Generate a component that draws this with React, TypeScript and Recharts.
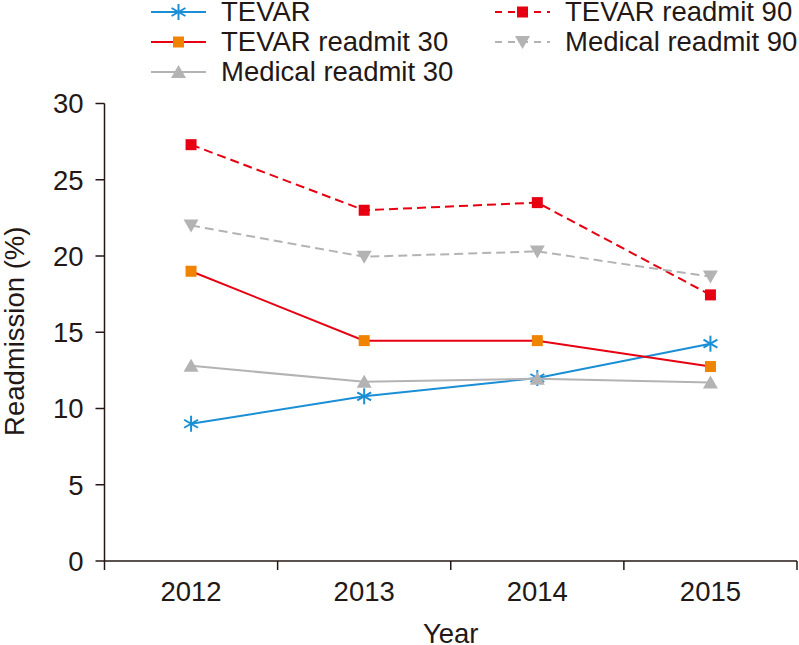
import React from 'react';
import { LineChart, Line, XAxis, YAxis, Label } from 'recharts';

const years = ['2012', '2013', '2014', '2015'];
const tevar = [9.0, 10.8, 12.0, 14.25];
const tevar30 = [19.0, 14.45, 14.45, 12.75];
const medical30 = [12.8, 11.75, 11.95, 11.7];
const tevar90 = [27.3, 23.0, 23.5, 17.45];
const medical90 = [22.0, 19.95, 20.3, 18.65];
const yTicks = [0, 5, 10, 15, 20, 25, 30];
const xTicks = [-0.5, 0, 0.5, 1, 1.5, 2, 2.5, 3, 3.5];

const INK = '#231815';
const FONT = '"Liberation Sans", Arial, Helvetica, sans-serif';
const FS = 27.5;

const data = years.map((year, i) => ({
  x: i,
  year,
  tevar: tevar[i],
  tevar30: tevar30[i],
  medical30: medical30[i],
  tevar90: tevar90[i],
  medical90: medical90[i],
}));

type Marker = 'asterisk' | 'square' | 'triangle' | 'triangleDown';

interface SeriesDef {
  key: string;
  name: string;
  line: string;
  fill: string;
  dash?: string;
  marker: Marker;
}

const series: SeriesDef[] = [
  { key: 'tevar', name: 'TEVAR', line: '#1a8fd6', fill: '#1a8fd6', marker: 'asterisk' },
  { key: 'tevar30', name: 'TEVAR readmit 30', line: '#e60012', fill: '#f08300', marker: 'square' },
  { key: 'medical30', name: 'Medical readmit 30', line: '#b3b3b3', fill: '#b3b3b3', marker: 'triangle' },
  { key: 'tevar90', name: 'TEVAR readmit 90', line: '#e60012', fill: '#e60012', dash: '9 5', marker: 'square' },
  { key: 'medical90', name: 'Medical readmit 90', line: '#b3b3b3', fill: '#b3b3b3', dash: '9 5', marker: 'triangleDown' },
];

function MarkerShape({ cx, cy, marker, color }: { cx: number; cy: number; marker: Marker; color: string }) {
  if (marker === 'asterisk') {
    const r = 8;
    const dx = r * Math.cos(Math.PI / 6);
    const dy = r * Math.sin(Math.PI / 6);
    return (
      <g stroke={color} strokeWidth={2}>
        <line x1={cx} y1={cy - r} x2={cx} y2={cy + r} />
        <line x1={cx - dx} y1={cy - dy} x2={cx + dx} y2={cy + dy} />
        <line x1={cx - dx} y1={cy + dy} x2={cx + dx} y2={cy - dy} />
      </g>
    );
  }
  if (marker === 'square') {
    const s = 5.5;
    return <rect x={cx - s} y={cy - s} width={2 * s} height={2 * s} fill={color} />;
  }
  if (marker === 'triangle') {
    return <polygon points={`${cx},${cy - 7} ${cx - 7.5},${cy + 6} ${cx + 7.5},${cy + 6}`} fill={color} />;
  }
  return <polygon points={`${cx},${cy + 7} ${cx - 7.5},${cy - 6} ${cx + 7.5},${cy - 6}`} fill={color} />;
}

const XTick = (props: any) => {
  const { x, y, payload } = props;
  const v = payload.value as number;
  if (!Number.isInteger(v)) {
    return <line x1={x} x2={x} y1={y - 9} y2={y} stroke={INK} strokeWidth={1.5} />;
  }
  return (
    <text x={x} y={y + 31} textAnchor="middle" fill={INK} fontSize={FS} fontFamily={FONT}>
      {years[v]}
    </text>
  );
};

const legendCols = [
  { left: 151, items: [series[0], series[1], series[2]] },
  { left: 495, items: [series[3], series[4]] },
];

function LegendBlock() {
  return (
    <>
      {legendCols.map((col, ci) =>
        col.items.map((s, ri) => (
          <div
            key={`${ci}-${ri}`}
            style={{
              position: 'absolute',
              left: col.left,
              top: 12 + ri * 30 - 15,
              height: 30,
              display: 'flex',
              alignItems: 'center',
              whiteSpace: 'nowrap',
            }}
          >
            <svg width={55} height={30} style={{ display: 'block' }}>
              <line x1={0} x2={55} y1={15} y2={15} stroke={s.line} strokeWidth={2} strokeDasharray={s.dash ? '7 6' : undefined} />
              <MarkerShape cx={27.5} cy={15} marker={s.marker} color={s.fill} />
            </svg>
            <span style={{ marginLeft: 15, fontFamily: FONT, fontSize: FS, color: INK, lineHeight: '30px' }}>{s.name}</span>
          </div>
        ))
      )}
    </>
  );
}

export default function App() {
  return (
    <div style={{ position: 'absolute', left: 0, top: 0, width: 799, height: 645, background: '#fff', overflow: 'hidden' }}>
      <LineChart width={799} height={645} data={data} margin={{ top: 103.5, right: 2, bottom: 0, left: 0 }}>
        <XAxis
          dataKey="x"
          type="number"
          domain={[-0.5, 3.5]}
          ticks={xTicks}
          interval={0}
          tick={<XTick />}
          tickLine={false}
          tickSize={9}
          tickMargin={0}
          height={84}
          axisLine={{ stroke: INK, strokeWidth: 1.5 }}
          allowDecimals
        >
          <Label
            content={(p: any) => {
              const vb = p.viewBox;
              return (
                <text x={vb.x + vb.width / 2} y={643} textAnchor="middle" fill={INK} fontSize={FS} fontFamily={FONT}>
                  Year
                </text>
              );
            }}
          />
        </XAxis>
        <YAxis
          type="number"
          domain={[0, 30]}
          ticks={yTicks}
          interval={0}
          width={104.5}
          tickSize={9}
          tickMargin={12}
          tick={{ fill: INK, fontSize: FS, fontFamily: FONT }}
          tickLine={{ stroke: INK, strokeWidth: 1.5 }}
          axisLine={{ stroke: INK, strokeWidth: 1.5 }}
        >
          <Label
            content={(p: any) => {
              const vb = p.viewBox;
              const cy = vb.y + vb.height / 2 - 1;
              return (
                <text x={24} y={cy} transform={`rotate(-90, 24, ${cy})`} textAnchor="middle" fill={INK} fontSize={FS} fontFamily={FONT}>
                  Readmission (%)
                </text>
              );
            }}
          />
        </YAxis>
        {series.map((s) => (
          <Line
            key={s.key}
            dataKey={s.key}
            name={s.name}
            stroke={s.line}
            strokeWidth={2}
            strokeDasharray={s.dash}
            isAnimationActive={false}
            dot={(p: any) => <MarkerShape key={`${s.key}-${p.index}`} cx={p.cx} cy={p.cy} marker={s.marker} color={s.fill} />}
            activeDot={false}
          />
        ))}
      </LineChart>
      <LegendBlock />
    </div>
  );
}
